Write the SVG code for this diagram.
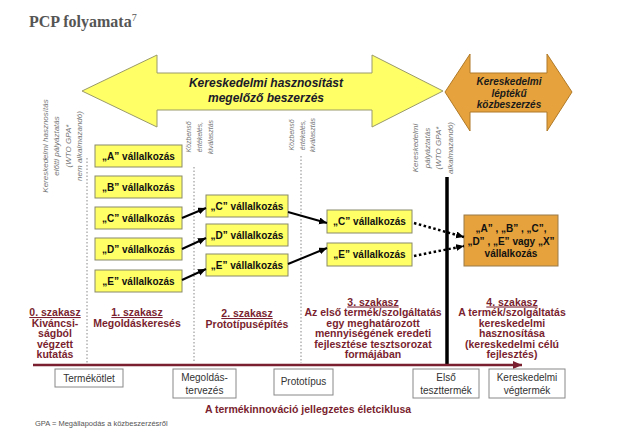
<svg xmlns="http://www.w3.org/2000/svg" width="644" height="439" viewBox="0 0 644 439">
<defs>
<style>
.ybox{fill:#FFFF66;stroke:#8a8a6a;stroke-width:1}
.btxt{font-family:"Liberation Sans",Arial,sans-serif;font-weight:bold;font-size:10px;fill:#111;text-anchor:middle}
.rot{font-family:"Liberation Sans",Arial,sans-serif;font-style:italic;fill:#777;text-anchor:middle}
.stage{font-family:"Liberation Sans",Arial,sans-serif;font-weight:bold;font-size:10.5px;fill:#7a1f2f;text-anchor:middle}
.wbox{fill:#fff;stroke:#888;stroke-width:1}
.wtxt{font-family:"Liberation Sans",Arial,sans-serif;font-size:10px;fill:#333;text-anchor:middle}
.dv{stroke:#888;stroke-width:1;stroke-dasharray:1.5 2;fill:none}
.con{stroke:#000;stroke-width:2;fill:none;marker-end:url(#ah)}
.dcon{stroke:#000;stroke-width:2.5;stroke-dasharray:2.5 2.5;fill:none;marker-end:url(#ah)}
</style>
<marker id="ah" markerUnits="userSpaceOnUse" markerWidth="9" markerHeight="8" refX="8" refY="3.5" orient="auto">
<path d="M0,0 L8,3.5 L0,7 z" fill="#000"/>
</marker>
<marker id="rh" markerUnits="userSpaceOnUse" markerWidth="10" markerHeight="9" refX="9" refY="4" orient="auto">
<path d="M0,0 L9,4 L0,8 z" fill="#7a1f2f"/>
</marker>
</defs>
<rect width="644" height="439" fill="#fff"/>

<text x="29" y="27" font-family="'Liberation Serif',serif" font-weight="bold" font-size="16" fill="#555">PCP folyamata<tspan font-size="10" font-weight="normal" dy="-6">7</tspan></text>

<g id="arrow-yellow">
<path d="M82,91 L157,55 L157,73 L372,73 L372,55 L443,91 L372,127 L372,110 L157,110 L157,127 Z" fill="#FFFF66" stroke="#9a9a6a" stroke-width="1"/>
<text font-family="'Liberation Sans',Arial,sans-serif" font-weight="bold" font-style="italic" font-size="12" fill="#1a1a2a" text-anchor="middle"><tspan x="266" y="87">Kereskedelmi hasznosítást</tspan><tspan x="266" y="102">megelőző beszerzés</tspan></text>
</g>

<g id="arrow-orange">
<path d="M445,92 L470,54 L470,73 L547,73 L547,54 L572,92 L547,131 L547,112 L470,112 L470,131 Z" fill="#E6A23C" stroke="#b07a28" stroke-width="1"/>
<text font-family="'Liberation Sans',Arial,sans-serif" font-weight="bold" font-style="italic" font-size="10" fill="#1a1a1a" text-anchor="middle"><tspan x="509" y="85">Kereskedelmi</tspan><tspan x="509" y="97">léptékű</tspan><tspan x="509" y="108">közbeszerzés</tspan></text>
</g>

<g id="label-pre">
<text class="rot" font-size="8" transform="translate(48,146) rotate(-90)"><tspan x="0" y="0">Kereskedelmi hasznosítás</tspan><tspan x="0" dy="11.3">előtti pályáztatás</tspan><tspan x="0" dy="11.3">(WTO GPA*</tspan><tspan x="0" dy="11.3">nem alkalmazandó)</tspan></text>
<line class="dv" x1="87" y1="158" x2="87" y2="363"/>
</g>
<g id="label-eval1">
<text class="rot" font-size="7" transform="translate(191,137) rotate(-90)"><tspan x="0" y="0">Közbenső</tspan><tspan x="0" dy="11">értékelés,</tspan><tspan x="0" dy="11">kiválasztás</tspan></text>
<line class="dv" x1="194" y1="167" x2="194" y2="363"/>
</g>
<g id="label-eval2">
<text class="rot" font-size="7" transform="translate(294,135) rotate(-90)"><tspan x="0" y="0">Közbenső</tspan><tspan x="0" dy="10.7">értékelés,</tspan><tspan x="0" dy="10.7">kiválasztás</tspan></text>
<line class="dv" x1="301" y1="156" x2="301" y2="363"/>
</g>
<g id="label-commercial">
<text class="rot" font-size="8" transform="translate(418,148) rotate(-90)"><tspan x="0" y="0">Kereskedelmi</tspan><tspan x="0" dy="11.5">pályáztatás</tspan><tspan x="0" dy="11.5">(WTO GPA*</tspan><tspan x="0" dy="11.5">alkalmazandó)</tspan></text>
<line x1="447" y1="177" x2="447" y2="364" stroke="#000" stroke-width="3.5"/>
</g>

<g id="s1-a"><rect class="ybox" x="95" y="145" width="87" height="22"/><text class="btxt" x="138.5" y="159.5">„A” vállalkozás</text></g>
<g id="s1-b"><rect class="ybox" x="95" y="176" width="87" height="22"/><text class="btxt" x="138.5" y="190.5">„B” vállalkozás</text></g>
<g id="s1-c"><rect class="ybox" x="95" y="207" width="87" height="22"/><text class="btxt" x="138.5" y="221.5">„C” vállalkozás</text></g>
<g id="s1-d"><rect class="ybox" x="95" y="238" width="87" height="22"/><text class="btxt" x="138.5" y="252.5">„D” vállalkozás</text></g>
<g id="s1-e"><rect class="ybox" x="95" y="270" width="87" height="22"/><text class="btxt" x="138.5" y="284.5">„E” vállalkozás</text></g>

<g id="s2-c"><rect class="ybox" x="206" y="195" width="82" height="22"/><text class="btxt" x="247" y="209.5">„C” vállalkozás</text></g>
<g id="s2-d"><rect class="ybox" x="206" y="224" width="82" height="22"/><text class="btxt" x="247" y="238.5">„D” vállalkozás</text></g>
<g id="s2-e"><rect class="ybox" x="206" y="254" width="82" height="22"/><text class="btxt" x="247" y="268.5">„E” vállalkozás</text></g>

<g id="s3-c"><rect class="ybox" x="327" y="210" width="85" height="23"/><text class="btxt" x="369.5" y="225">„C” vállalkozás</text></g>
<g id="s3-e"><rect class="ybox" x="327" y="243" width="85" height="23"/><text class="btxt" x="369.5" y="258">„E” vállalkozás</text></g>

<g id="s4-winner"><rect x="464" y="215" width="94" height="51" fill="#E6A23C" stroke="#9a7a4a" stroke-width="1"/>
<text class="btxt" fill="#1a1a1a"><tspan x="511" y="232">„A” , „B” , „C”,</tspan><tspan x="511" y="245">„D” , „E” vagy „X”</tspan><tspan x="511" y="257">vállalkozás</tspan></text></g>

<g id="connectors">
<line class="con" x1="182" y1="218" x2="206" y2="208"/>
<line class="con" x1="182" y1="249" x2="206" y2="238"/>
<line class="con" x1="182" y1="280" x2="206" y2="269"/>
<line class="con" x1="288" y1="212" x2="327" y2="223"/>
<line class="con" x1="288" y1="264" x2="327" y2="248"/>
<line class="dcon" x1="414" y1="223" x2="464" y2="237"/>
<line class="dcon" x1="414" y1="256" x2="464" y2="246"/>
</g>

<g id="stages">
<text class="stage"><tspan x="55" y="316" text-decoration="underline">0. szakasz</tspan><tspan x="55" y="326.5">Kiváncsi-</tspan><tspan x="55" y="337">ságból</tspan><tspan x="55" y="347.5">végzett</tspan><tspan x="55" y="358">kutatás</tspan></text>
<text class="stage"><tspan x="137" y="316" text-decoration="underline">1. szakasz</tspan><tspan x="137" y="326.5">Megoldáskeresés</tspan></text>
<text class="stage"><tspan x="247" y="317" text-decoration="underline">2. szakasz</tspan><tspan x="247" y="328">Prototípusépítés</tspan></text>
<text class="stage"><tspan x="373" y="305.5" text-decoration="underline">3. szakasz</tspan><tspan x="373" y="316">Az első termék/szolgáltatás</tspan><tspan x="373" y="326.5">egy meghatározott</tspan><tspan x="373" y="337">mennyiségének eredeti</tspan><tspan x="373" y="347.5">fejlesztése tesztsorozat</tspan><tspan x="373" y="358">formájában</tspan></text>
<text class="stage"><tspan x="512" y="305.5" text-decoration="underline">4. szakasz</tspan><tspan x="512" y="316">A termék/szolgáltatás</tspan><tspan x="512" y="326.5">kereskedelmi</tspan><tspan x="512" y="337">hasznosítása</tspan><tspan x="512" y="347.5">(kereskedelmi célú</tspan><tspan x="512" y="358">fejlesztés)</tspan></text>
</g>

<g id="axis">
<line x1="33" y1="365" x2="522" y2="365" stroke="#7a1f2f" stroke-width="2.5" marker-end="url(#rh)"/>
</g>

<g id="m-idea"><rect class="wbox" x="55" y="369" width="68" height="18"/><text class="wtxt" x="89" y="382">Termékötlet</text></g>
<g id="m-design"><rect class="wbox" x="173" y="369" width="63" height="29"/><text class="wtxt"><tspan x="204.5" y="381">Megoldás-</tspan><tspan x="204.5" y="393.5">tervezés</tspan></text></g>
<g id="m-proto"><rect class="wbox" x="274" y="369" width="59" height="26"/><text class="wtxt" x="303.5" y="385">Prototípus</text></g>
<g id="m-first"><rect class="wbox" x="413" y="369" width="66" height="29"/><text class="wtxt"><tspan x="446" y="381">Első</tspan><tspan x="446" y="393.5">teszttermék</tspan></text></g>
<g id="m-final"><rect class="wbox" x="489" y="369" width="76" height="29"/><text class="wtxt"><tspan x="527" y="381">Kereskedelmi</tspan><tspan x="527" y="393.5">végtermék</tspan></text></g>

<text class="stage" x="308" y="413">A termékinnováció jellegzetes életciklusa</text>
<text x="35" y="426" font-family="'Liberation Sans',Arial,sans-serif" font-size="7.5" fill="#555">GPA = Megállapodás a közbeszerzésről</text>
</svg>
